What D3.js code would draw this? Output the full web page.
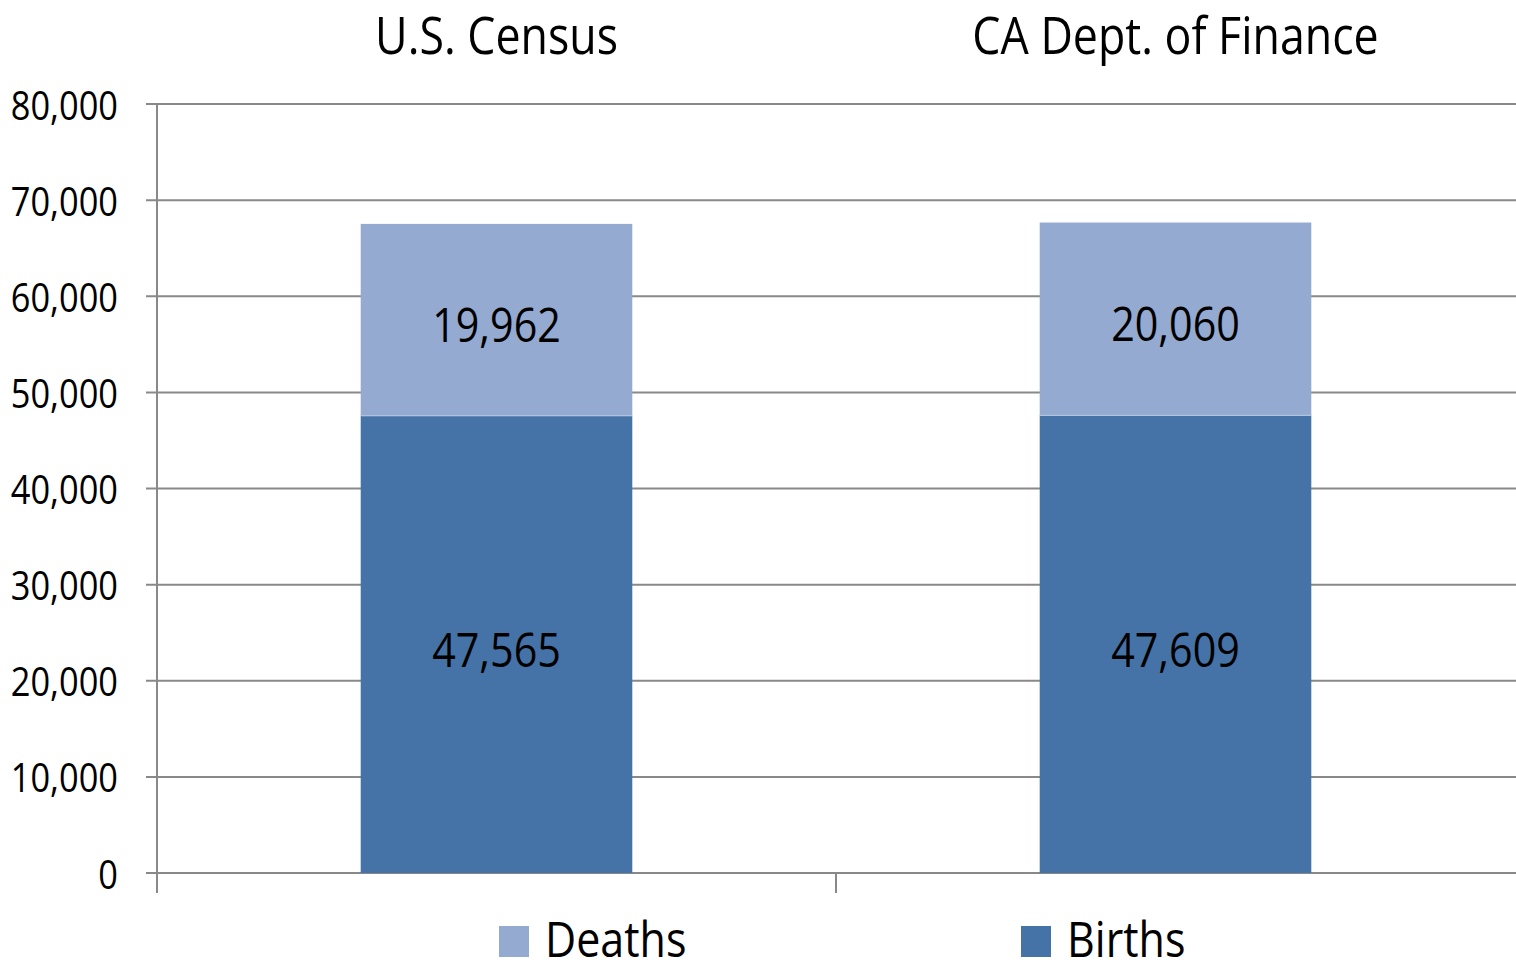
<!DOCTYPE html>
<html>
<head>
<meta charset="utf-8">
<script src="https://cdn.jsdelivr.net/npm/d3@7"></script>
<style>
  body { margin: 0; background: #fff; }
  text { font-family: "Open Sans", sans-serif; fill: #000; }
</style>
</head>
<body>
<div id="chart"></div>
<script>
// data
let categories = ["U.S. Census", "CA Dept. of Finance"];
let births = [47565, 47609];
let deaths = [19962, 20060];
let yTicks = [0, 10000, 20000, 30000, 40000, 50000, 60000, 70000, 80000];
let seriesNames = ["Deaths", "Births"];
let colors = { Births: "#4573a7", Deaths: "#94aad0" };

let width = 1516, height = 965;
let margin = { top: 104, right: 1, bottom: 92, left: 157 };
let sx = 0.86; // squeeze text horizontally, the source font is narrow

let svg = d3
  .select("#chart")
  .append("svg")
  .attr("width", width)
  .attr("height", height);

let x = d3.scaleBand().domain(categories).range([margin.left, width - margin.right]);
let y = d3.scaleLinear().domain([0, 80000]).range([height - margin.bottom, margin.top]);

// helper for narrow text
function label(g, px, py, str, size, anchor) {
  return g
    .append("text")
    .attr("transform", "translate(" + px + "," + py + ") scale(" + sx + ",1)")
    .attr("text-anchor", anchor || "middle")
    .attr("dominant-baseline", "central")
    .style("font-size", size + "px")
    .text(str);
}

// gridlines + y ticks
let grid = svg.append("g");
grid
  .selectAll("line")
  .data(yTicks)
  .enter()
  .append("line")
  .attr("x1", margin.left - 11)
  .attr("x2", width)
  .attr("y1", (d) => y(d))
  .attr("y2", (d) => y(d))
  .attr("stroke", "#898989")
  .attr("stroke-width", 2);

yTicks.forEach((t) => label(grid, 118, y(t), d3.format(",")(t), 40, "end"));

// stacked bars
let barW = x.bandwidth() * 0.4;
let bars = svg.append("g");
categories.forEach((c, i) => {
  let x0 = x(c) + (x.bandwidth() - barW) / 2;
  bars
    .append("rect")
    .attr("x", x0)
    .attr("width", barW)
    .attr("y", y(births[i]))
    .attr("height", y(0) - y(births[i]))
    .attr("fill", colors.Births);
  bars
    .append("rect")
    .attr("x", x0)
    .attr("width", barW)
    .attr("y", y(births[i] + deaths[i]))
    .attr("height", y(births[i]) - y(births[i] + deaths[i]))
    .attr("fill", colors.Deaths);
  // thin light seam between segments
  bars
    .append("line")
    .attr("x1", x0)
    .attr("x2", x0 + barW)
    .attr("y1", y(births[i]))
    .attr("y2", y(births[i]))
    .attr("stroke", "#b8c8e0")
    .attr("stroke-width", 1);

  let cx = x(c) + x.bandwidth() / 2;
  label(bars, cx, y(births[i] / 2) + 4, d3.format(",")(births[i]), 48);
  label(bars, cx, y(births[i] + deaths[i] / 2) + 3, d3.format(",")(deaths[i]), 48);
  // category titles on top
  label(svg, cx, 34, c, 52);
});

// axes lines
let ax = svg.append("g").attr("stroke", "#898989").attr("stroke-width", 2);
ax.append("line")
  .attr("x1", margin.left)
  .attr("x2", margin.left)
  .attr("y1", y(80000))
  .attr("y2", y(0) + 20);
// tick between the two categories
categories.slice(0, -1).forEach((c) => {
  let bx = x(c) + x.bandwidth();
  ax.append("line")
    .attr("x1", bx)
    .attr("x2", bx)
    .attr("y1", y(0))
    .attr("y2", y(0) + 20);
});

// legend
let legendX = [499, 1021];
let legend = svg.append("g");
seriesNames.forEach((s, i) => {
  legend
    .append("rect")
    .attr("x", legendX[i])
    .attr("y", 926)
    .attr("width", 30)
    .attr("height", 31)
    .attr("fill", colors[s]);
  label(legend, legendX[i] + 46, 938, s, 50, "start");
});
</script>
</body>
</html>
